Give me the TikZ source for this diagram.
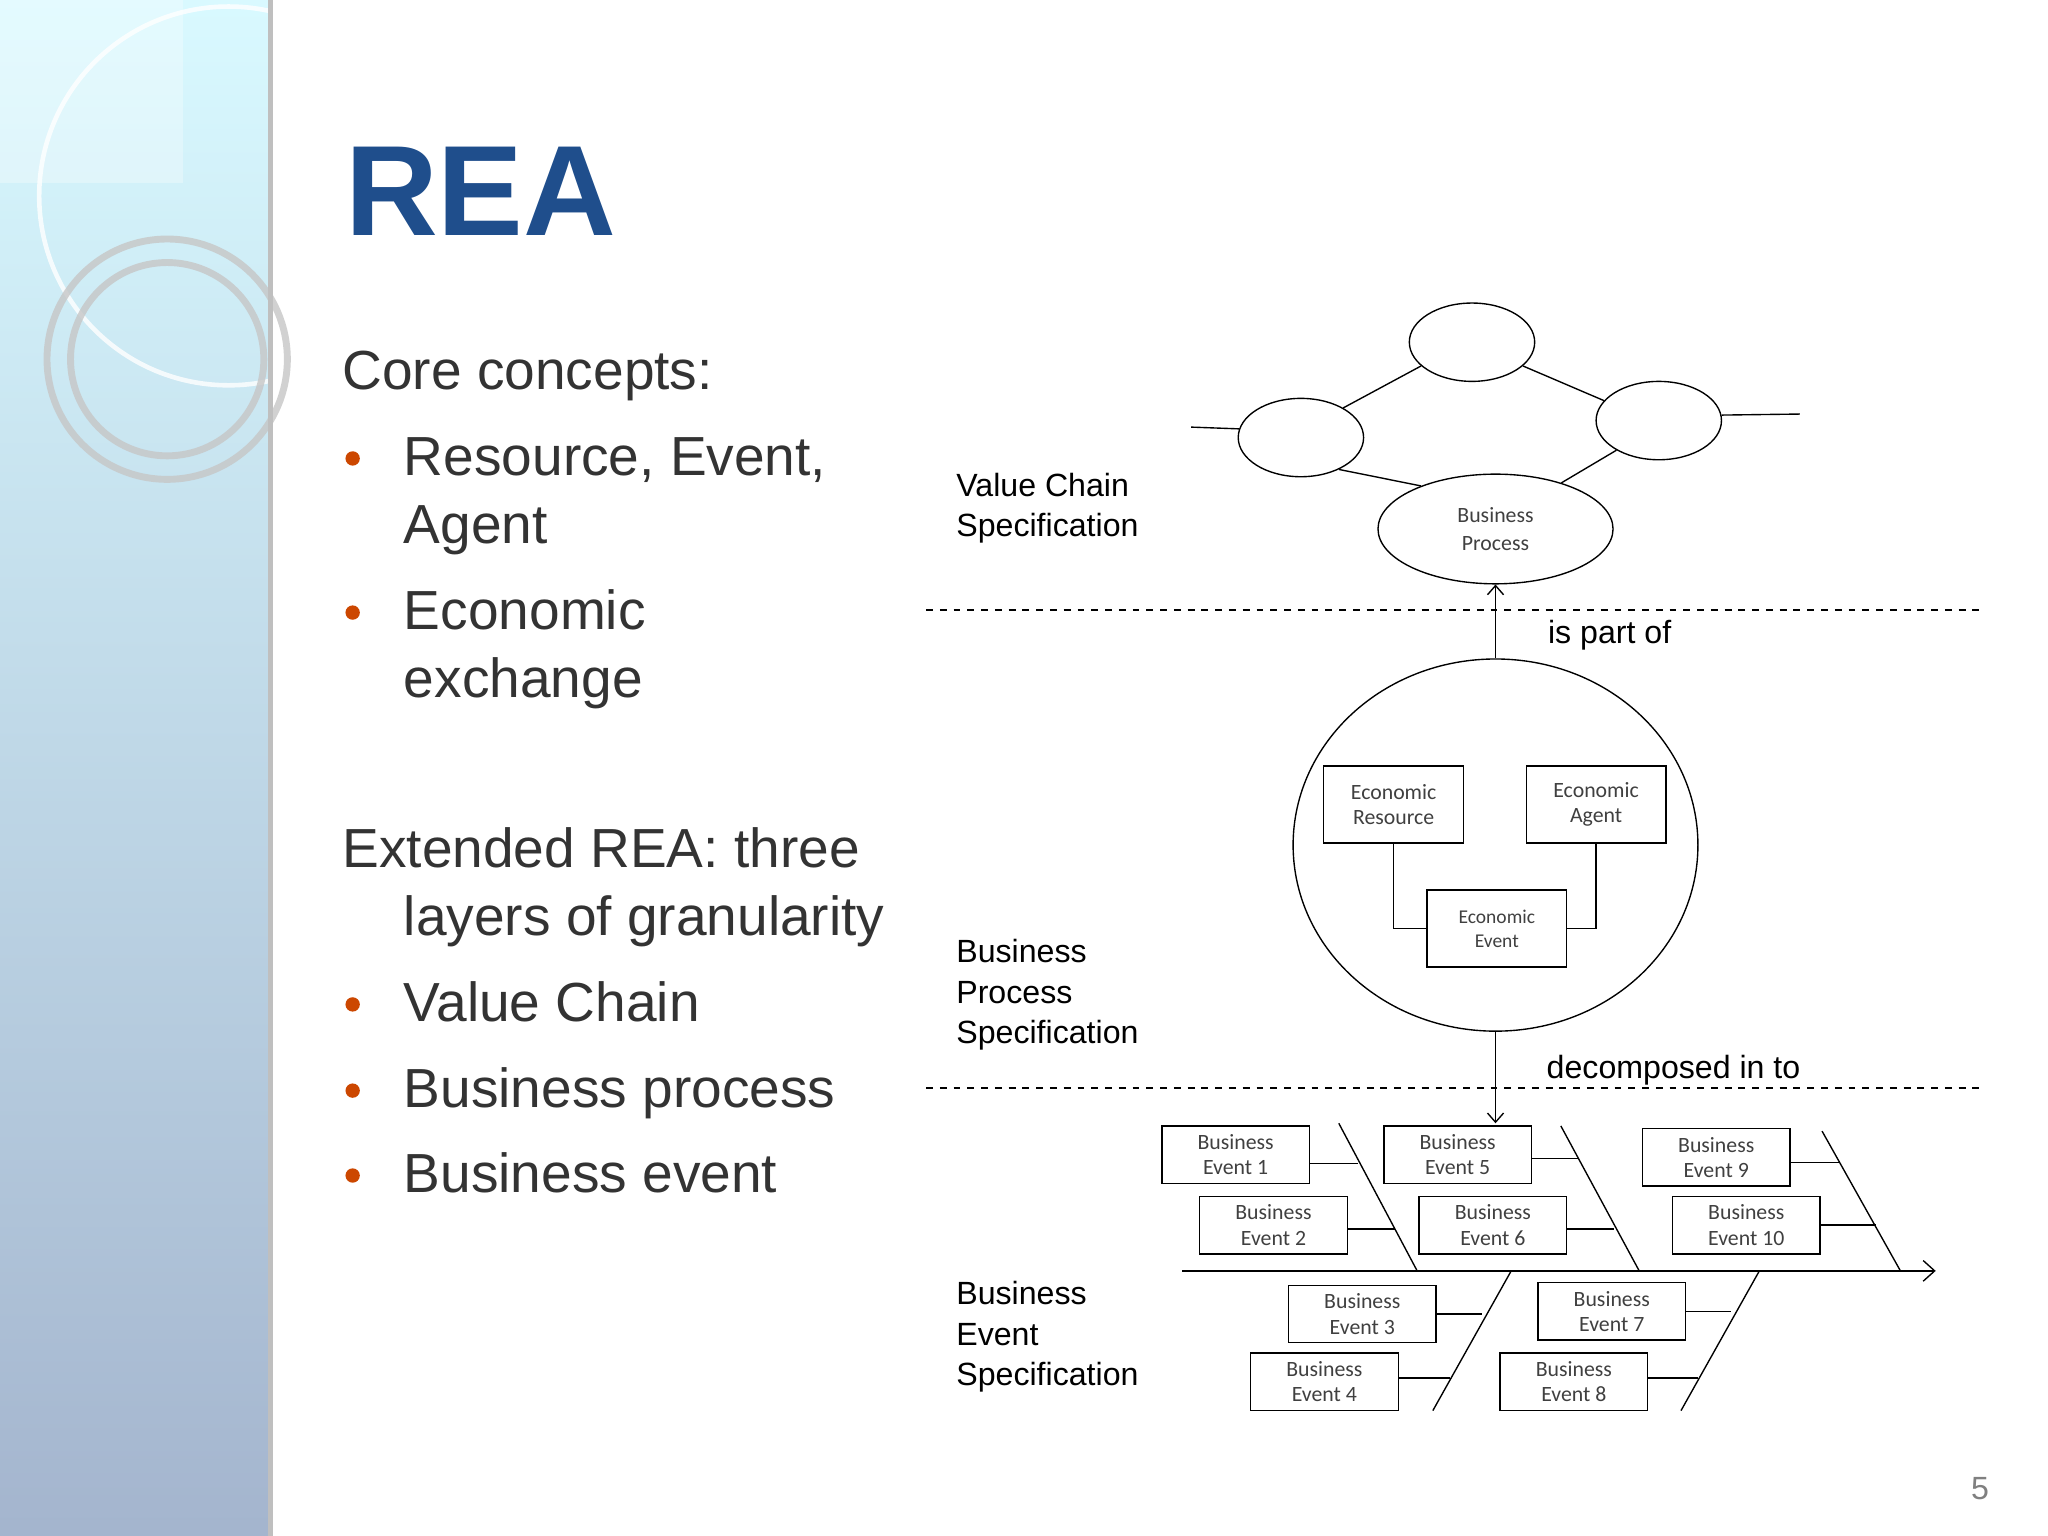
\documentclass[tikz,border=0pt]{standalone}
\usepackage{fontspec}
\setmainfont{Liberation Sans}
\newfontfamily\smallf{Carlito}
\usetikzlibrary{arrows.meta,shapes.geometric}
\begin{document}
\begin{tikzpicture}[x=0.02cm,y=-0.02cm,
  big/.style={anchor=base west,font=\fontsize{24}{28}\selectfont,text=black!80},
  lab/.style={anchor=base west,font=\fontsize{14}{16}\selectfont,align=left},
  bul/.style={circle,fill=orange!70!red!80!black,inner sep=0pt,minimum size=0.22cm},
  ell/.style={draw,ellipse,line width=0.6pt},
  box/.style={draw,line width=0.6pt,minimum width=2.26cm,minimum height=0.88cm,inner sep=0pt,align=center,font=\smallf\fontsize{9.5}{11}\selectfont,text=black!75},
  ebox/.style={box,minimum width=2.14cm,minimum height=1.18cm},
  ln/.style={line width=0.6pt},
  dsh/.style={dashed,line width=0.6pt}]
\useasboundingbox (0,0) rectangle (1568,1176);
\fill[white] (0,0) rectangle (1568,1176);
% left strip
\shade[top color=blue!15!cyan!15,bottom color=cyan!40!blue!30!gray!55] (0,0) rectangle (207,1176);
\fill[white,opacity=0.3] (0,0) rectangle (140,140);
\draw[white,line width=2pt,opacity=0.8] (175,150) circle (145);
\draw[gray!45,line width=3pt,opacity=0.8] (128,275) circle (92);
\draw[gray!45,line width=3pt,opacity=0.8] (128,275) circle (74);
\fill[gray!50] (205,0) rectangle (209,1176);
% title
\node[anchor=base west,font=\fontsize{56}{64}\bfseries\selectfont,text={rgb,255:red,31;green,78;blue,140}] (title) at (258,180) {REA};
% left text
\node[big] (t1) at (256,298) {Core concepts:};
\node[bul] (b1) at (270,351) {}; \node[big] (t2) at (303,364) {Resource, Event,};
\node[big] (t3) at (303,416) {Agent};
\node[bul] (b2) at (270,469) {}; \node[big] (t4) at (303,482) {Economic};
\node[big] (t5) at (303,534) {exchange};
\node[big] (t6) at (256,664) {Extended REA: three};
\node[big] (t7) at (303,716) {layers of granularity};
\node[bul] (b3) at (270,769) {}; \node[big] (t8) at (303,782) {Value Chain};
\node[bul] (b4) at (270,835) {}; \node[big] (t9) at (303,848) {Business process};
\node[bul] (b5) at (270,900) {}; \node[big] (t10) at (303,913) {Business event};
% labels
\node[lab] (l1) at (726,380) {Value Chain};
\node[lab] (l2) at (726,411) {Specification};
\node[lab] (l3) at (726,737) {Business};
\node[lab] (l4) at (726,768) {Process};
\node[lab] (l5) at (726,799) {Specification};
\node[lab] (l6) at (726,999) {Business};
\node[lab] (l7) at (726,1030) {Event};
\node[lab] (l8) at (726,1061) {Specification};
% dashed lines
\coordinate (d1a) at (709,467); \coordinate (d1b) at (1515,467);
\coordinate (d2a) at (709,833); \coordinate (d2b) at (1515,833);
\draw[dsh] (d1a) -- (d1b); \draw[dsh] (d2a) -- (d2b);
% value chain
\node[ell,minimum width=1.92cm,minimum height=1.2cm] (et) at (1127,262) {};
\node[ell,minimum width=1.92cm,minimum height=1.2cm] (el) at (996,335) {};
\node[ell,minimum width=1.92cm,minimum height=1.2cm] (er) at (1270,322) {};
\node[ell,minimum width=3.6cm,minimum height=1.68cm,font=\smallf\fontsize{9.5}{12}\selectfont,align=center,text=black!75] (bp) at (1145,405) {Business\\Process};
\coordinate (fl) at (912,327); \coordinate (fr) at (1378,317);
\draw[ln] (fl) -- (el.172);
\draw[ln] (el.35) -- (et.205);
\draw[ln] (et.335) -- (er.160);
\draw[ln] (er.5) -- (fr);
\draw[ln] (el.320) -- (bp.150);
\draw[ln] (er.215) -- (bp.35);
% business process circle
\node[ell,minimum width=6.2cm,minimum height=5.7cm] (c) at (1145,647) {};
\draw[ln,-{Straight Barb[length=4pt,width=7pt]}] (c.north) -- (bp.south);
\node[anchor=base west,font=\fontsize{14}{16}\selectfont] (ipo) at (1179,493) {is part of};
\node[ebox] (res) at (1067,616) {Economic\\Resource};
\node[ebox] (ag) at (1222,616) {Economic\\Agent};
\node[ebox,font=\smallf\fontsize{8.5}{10.5}\selectfont] (ev) at (1146,711) {Economic\\Event};
\draw[ln] (res.south) |- (ev.west);
\draw[ln] (ag.south) |- (ev.east);
\coordinate (dtop) at (1145,860);
\draw[ln,-{Straight Barb[length=4pt,width=7pt]}] (c.south) -- (dtop);
\node[anchor=base west,font=\fontsize{14}{16}\selectfont] (dec) at (1178,826) {decomposed in to};
% fishbone
\coordinate (sp1) at (905,973); \coordinate (sp2) at (1482,973);
\draw[ln,-{Straight Barb[length=5pt,width=9pt]}] (sp1) -- (sp2);
\coordinate (u1a) at (1025,860); \coordinate (u1b) at (1085,973);
\coordinate (u2a) at (1195,862); \coordinate (u2b) at (1255,973);
\coordinate (u3a) at (1395,866); \coordinate (u3b) at (1455,973);
\coordinate (w1a) at (1157,973); \coordinate (w1b) at (1097,1080);
\coordinate (w2a) at (1347,973); \coordinate (w2b) at (1287,1080);
\draw[ln] (u1a)--(u1b); \draw[ln] (u2a)--(u2b); \draw[ln] (u3a)--(u3b);
\draw[ln] (w1a)--(w1b); \draw[ln] (w2a)--(w2b);
\node[box] (be1) at (946,884) {Business\\Event 1};
\node[box] (be2) at (975,938) {Business\\Event 2};
\node[box] (be5) at (1116,884) {Business\\Event 5};
\node[box] (be6) at (1143,938) {Business\\Event 6};
\node[box] (be9) at (1314,886) {Business\\Event 9};
\node[box] (be10) at (1337,938) {Business\\Event 10};
\node[box] (be3) at (1043,1006) {Business\\Event 3};
\node[box] (be4) at (1014,1058) {Business\\Event 4};
\node[box] (be7) at (1234,1004) {Business\\Event 7};
\node[box] (be8) at (1205,1058) {Business\\Event 8};
\coordinate (k1) at (1040,891); \coordinate (k2) at (1068,941);
\coordinate (k5) at (1208,887); \coordinate (k6) at (1236,941);
\coordinate (k9) at (1409,890); \coordinate (k10) at (1436,938);
\coordinate (k3) at (1135,1006); \coordinate (k4) at (1110,1055);
\coordinate (k7) at (1325,1004); \coordinate (k8) at (1300,1055);
\draw[ln] (be1.east|-k1) -- (k1); \draw[ln] (be2.east|-k2) -- (k2);
\draw[ln] (be5.east|-k5) -- (k5); \draw[ln] (be6.east|-k6) -- (k6);
\draw[ln] (be9.east|-k9) -- (k9); \draw[ln] (be10.east|-k10) -- (k10);
\draw[ln] (be3.east|-k3) -- (k3); \draw[ln] (be4.east|-k4) -- (k4);
\draw[ln] (be7.east|-k7) -- (k7); \draw[ln] (be8.east|-k8) -- (k8);
\node[font=\fontsize{14}{16}\selectfont,text=gray] (pg) at (1516,1140) {5};
\end{tikzpicture}
\end{document}
